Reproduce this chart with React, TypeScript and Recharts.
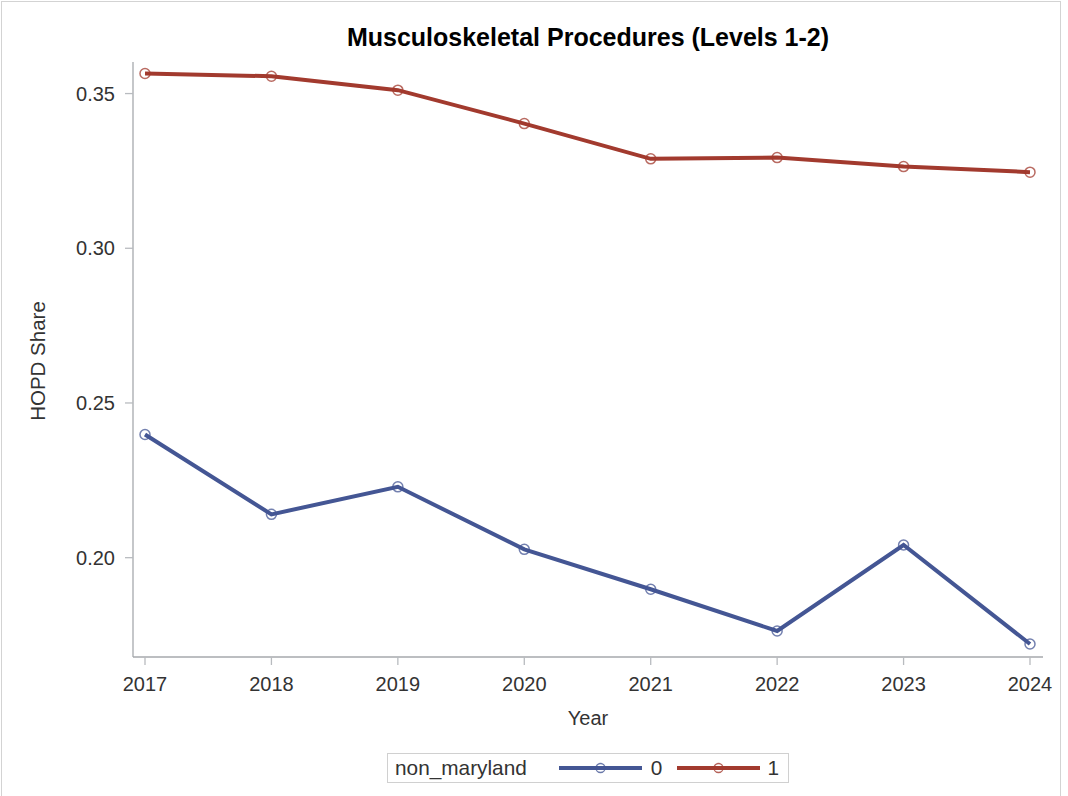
import React from "react";
import { LineChart, Line, XAxis, YAxis } from "recharts";

const years = [2017, 2018, 2019, 2020, 2021, 2022, 2023, 2024];
const series0 = [0.2398, 0.214, 0.2229, 0.2027, 0.1898, 0.1763, 0.2041, 0.1721];
const series1 = [0.3565, 0.3556, 0.3511, 0.3403, 0.3289, 0.3293, 0.3264, 0.3246];
const yTicks = [0.2, 0.25, 0.3, 0.35];
const seriesNames = ["0", "1"];
const legendTitle = "non_maryland";
const title = "Musculoskeletal Procedures (Levels 1-2)";

const data = years.map((y, i) => ({ year: y, s0: series0[i], s1: series1[i] }));

const BLUE = "#445694";
const RED = "#A23A2E";
const FRAME = "#A6A9AD";
const FONT = "'Liberation Sans', Arial, sans-serif";

const Dot = (color: string) => (props: any) => {
  const { cx, cy, index } = props;
  if (cx == null || cy == null) return null;
  return (
    <circle key={index} cx={cx} cy={cy} r={5} fill="none" stroke={color} strokeOpacity={0.75} strokeWidth={1.5} />
  );
};

const LegendSample = ({ color }: { color: string }) => (
  <svg width={83} height={12} style={{ display: "block" }}>
    <line x1={0} y1={6} x2={83} y2={6} stroke={color} strokeWidth={4} />
    <circle cx={41.5} cy={6} r={4.5} fill="none" stroke={color} strokeOpacity={0.8} strokeWidth={1.3} />
  </svg>
);

export default function App() {
  return (
    <div style={{ position: "fixed", left: 0, top: 0, width: 1068, height: 796, background: "#fff", fontFamily: FONT }}>
      <div style={{ position: "absolute", left: 1, top: 1, width: 1060, height: 810, border: "1px solid #D3D3D3", boxSizing: "border-box" }} />
      <div style={{ position: "absolute", left: 133, width: 910, top: 23, textAlign: "center", fontSize: 25, fontWeight: "bold", color: "#000", whiteSpace: "nowrap" }}>
        {title}
      </div>
      <div style={{ position: "absolute", left: 0, top: 0 }}>
        <LineChart width={1068} height={796} data={data} margin={{ top: 62, right: 25, left: 63, bottom: 109 }}>
          <XAxis
            dataKey="year"
            type="number"
            domain={[2017, 2024]}
            ticks={years}
            padding={{ left: 12, right: 13 }}
            allowDecimals={false}
            height={30}
            tickSize={8}
            tickMargin={12}
            axisLine={{ stroke: FRAME, strokeWidth: 1.3 }}
            tickLine={{ stroke: "#B8BBBF", strokeWidth: 1.3 }}
            tick={{ fill: "#333", fontSize: 20, fontFamily: FONT }}
          />
          <XAxis xAxisId="top" orientation="top" dataKey="year" type="number" domain={[2017, 2024]} padding={{ left: 12, right: 13 }} height={0} tick={false} tickLine={false} axisLine={{ stroke: FRAME, strokeWidth: 1.3 }} />
          <YAxis
            domain={[0.1679, 0.3602]}
            ticks={yTicks}
            allowDataOverflow
            width={70}
            tickSize={8}
            tickMargin={10}
            tickFormatter={(v: number) => v.toFixed(2)}
            axisLine={{ stroke: FRAME, strokeWidth: 1.3 }}
            tickLine={{ stroke: "#B8BBBF", strokeWidth: 1.3 }}
            tick={{ fill: "#333", fontSize: 20, fontFamily: FONT }}
          />
          <YAxis yAxisId="right" orientation="right" domain={[0.1679, 0.3602]} width={0} tick={false} tickLine={false} axisLine={{ stroke: FRAME, strokeWidth: 1.3 }} />
          <Line dataKey="s0" name={seriesNames[0]} stroke={BLUE} strokeWidth={4} dot={Dot(BLUE)} activeDot={false} isAnimationActive={false} />
          <Line dataKey="s1" name={seriesNames[1]} stroke={RED} strokeWidth={4} dot={Dot(RED)} activeDot={false} isAnimationActive={false} />
        </LineChart>
      </div>
      <div style={{ position: "absolute", left: 38, top: 361, transform: "translate(-50%, -50%) rotate(-90deg)", fontSize: 20.5, color: "#333", whiteSpace: "nowrap" }}>
        HOPD Share
      </div>
      <div style={{ position: "absolute", left: 133, width: 910, top: 707, textAlign: "center", fontSize: 20, color: "#333" }}>
        Year
      </div>
      <div style={{ position: "absolute", left: 387, top: 753, width: 402, height: 30, border: "1px solid #D0D0D0", boxSizing: "border-box", display: "flex", alignItems: "center", fontSize: 20.8, color: "#333", whiteSpace: "nowrap" }}>
        <span style={{ marginLeft: 7 }}>{legendTitle}</span>
        <span style={{ marginLeft: 32 }}><LegendSample color={BLUE} /></span>
        <span style={{ marginLeft: 9 }}>{seriesNames[0]}</span>
        <span style={{ marginLeft: 15 }}><LegendSample color={RED} /></span>
        <span style={{ marginLeft: 7 }}>{seriesNames[1]}</span>
      </div>
    </div>
  );
}
